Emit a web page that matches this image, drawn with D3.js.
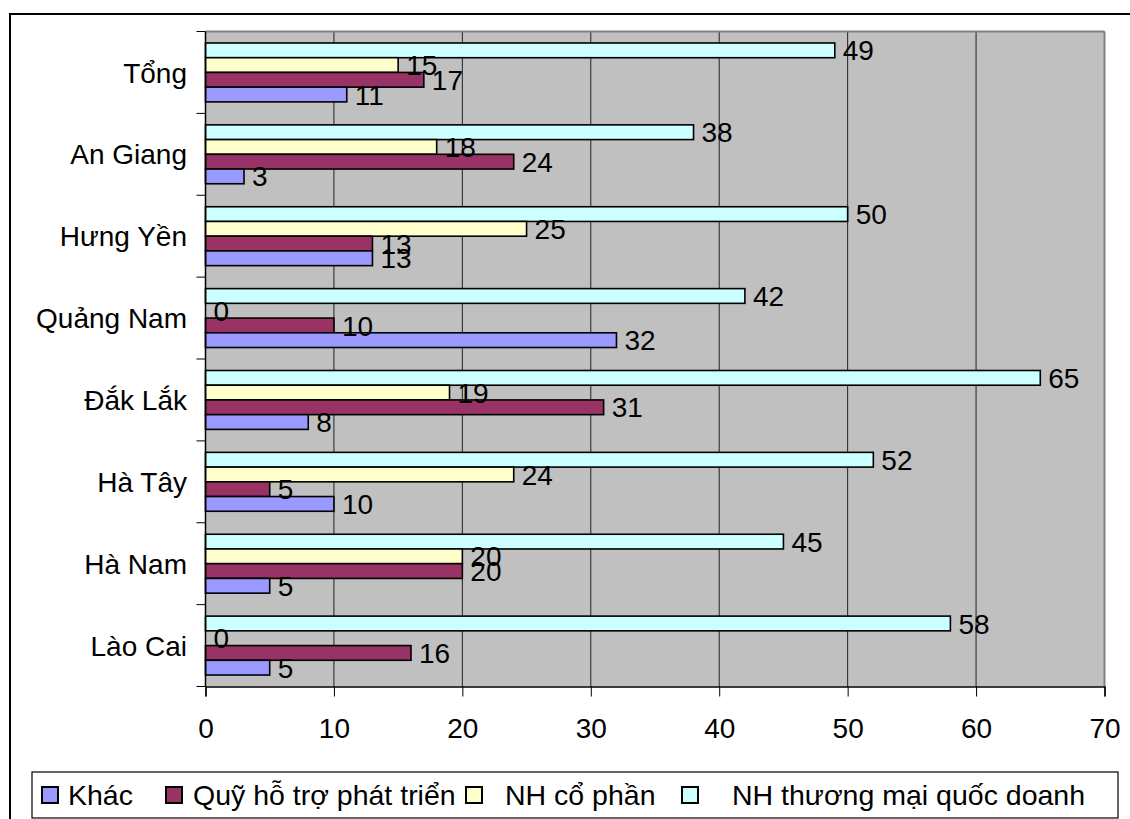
<!DOCTYPE html>
<html><head><meta charset="utf-8">
<script src="https://cdn.jsdelivr.net/npm/d3@7"></script>
<style>body{margin:0;background:#fff}svg{display:block}text{font-family:Arial,"Liberation Sans",sans-serif;fill:#000}</style>
</head><body><svg id="c" width="1130" height="819"></svg>
<script>
const categories = ["Tổng","An Giang","Hưng Yền","Quảng Nam","Đắk Lắk","Hà Tây","Hà Nam","Lào Cai"];
const seriesNames = ["Khác","Quỹ hỗ trợ phát triển","NH cổ phần","NH thương mại quốc doanh"];
const khac   = [11, 3, 13, 32, 8, 10, 5, 5];
const quy    = [17, 24, 13, 10, 31, 5, 20, 16];
const nhcp   = [15, 18, 25, 0, 19, 24, 20, 0];
const nhtm   = [49, 38, 50, 42, 65, 52, 45, 58];
const xTicks = [0,10,20,30,40,50,60,70];
const colors = ["#9999FF","#993366","#FFFFCC","#CCFFFF"];

const seriesValues = [khac, quy, nhcp, nhtm];
const svg = d3.select("#c");
const L = 205.5, R = 1104.5, T = 31.5, B = 686.5;

// outer frame
svg.append("line").attr("x1",10).attr("x2",1130).attr("y1",14).attr("y2",14).attr("stroke","#000").attr("stroke-width",2);
svg.append("line").attr("x1",10).attr("x2",10).attr("y1",13).attr("y2",819).attr("stroke","#000").attr("stroke-width",2);

const x = d3.scaleLinear().domain([0,70]).range([L,R]);
const y0 = d3.scaleBand().domain(categories).range([T,B]);
const order = [3,2,1,0];
const y1 = d3.scaleBand().domain(order).range([0,y0.bandwidth()]).paddingOuter(0.78).paddingInner(0);

svg.append("rect").attr("x",L).attr("y",T).attr("width",R-L).attr("height",B-T).attr("fill","#C0C0C0");
// gridlines
svg.append("g").selectAll("line").data(xTicks.filter(t=>t>0&&t<70)).join("line")
  .attr("x1",d=>x(d)).attr("x2",d=>x(d)).attr("y1",T).attr("y2",B).attr("stroke","#222").attr("stroke-width",1);
// plot border top/right gray
svg.append("line").attr("x1",L).attr("x2",R).attr("y1",T).attr("y2",T).attr("stroke","#808080").attr("stroke-width",2);
svg.append("line").attr("x1",R).attr("x2",R).attr("y1",T).attr("y2",B).attr("stroke","#808080").attr("stroke-width",2);

// bars
const groups = svg.append("g").selectAll("g").data(categories).join("g")
  .attr("transform",d=>`translate(0,${y0(d)})`);
groups.each(function(cat,ci){
  const g = d3.select(this);
  order.forEach(si=>{
    const v = seriesValues[si][ci];
    if (v>0) g.append("rect").attr("x",x(0)).attr("y",y1(si)).attr("width",x(v)-x(0)).attr("height",y1.bandwidth())
      .attr("fill",colors[si]).attr("stroke","#000").attr("stroke-width",1.6);
  });
});
// labels
groups.each(function(cat,ci){
  const g = d3.select(this);
  order.forEach(si=>{
    const v = seriesValues[si][ci];
    g.append("text").attr("x",x(v)+8).attr("y",y1(si)+y1.bandwidth()/2).attr("dy","0.36em")
      .attr("font-size",28).text(v);
  });
});

// x axis
const xa = svg.append("g").attr("transform",`translate(0,${B})`)
  .call(d3.axisBottom(x).tickValues(xTicks).tickSize(10).tickPadding(22).tickFormat(d3.format("d")));
xa.select(".domain").attr("stroke","#000").attr("stroke-width",1.5);
xa.selectAll(".tick line").attr("stroke","#000");
xa.selectAll(".tick text").attr("font-size",28).attr("font-family","Arial, 'Liberation Sans', sans-serif").attr("dy","0.68em");

// y axis
svg.append("line").attr("x1",L).attr("x2",L).attr("y1",T).attr("y2",B).attr("stroke","#000").attr("stroke-width",1.5);
const bounds = categories.map(c=>y0(c)).concat([B]);
svg.append("g").selectAll("line").data(bounds).join("line")
  .attr("x1",L-9).attr("x2",L).attr("y1",d=>d).attr("y2",d=>d).attr("stroke","#000");
svg.append("g").selectAll("text").data(categories).join("text")
  .attr("x",187).attr("y",d=>y0(d)+y0.bandwidth()/2).attr("dy","0.36em").attr("text-anchor","end")
  .attr("font-size",28).text(d=>d);

// legend
svg.append("rect").attr("x",32).attr("y",772).attr("width",1086).attr("height",46).attr("fill","#fff").attr("stroke","#000").attr("stroke-width",1.2);
const legX = [42,166,466,682], legT = [68,193,505,732];
seriesNames.forEach((n,i)=>{
  svg.append("rect").attr("x",legX[i]).attr("y",787).attr("width",16).attr("height",16)
    .attr("fill",colors[i]).attr("stroke","#000").attr("stroke-width",2);
  svg.append("text").attr("x",legT[i]).attr("y",795).attr("dy","0.36em").attr("font-size",28.5).text(n);
});
</script></body></html>
